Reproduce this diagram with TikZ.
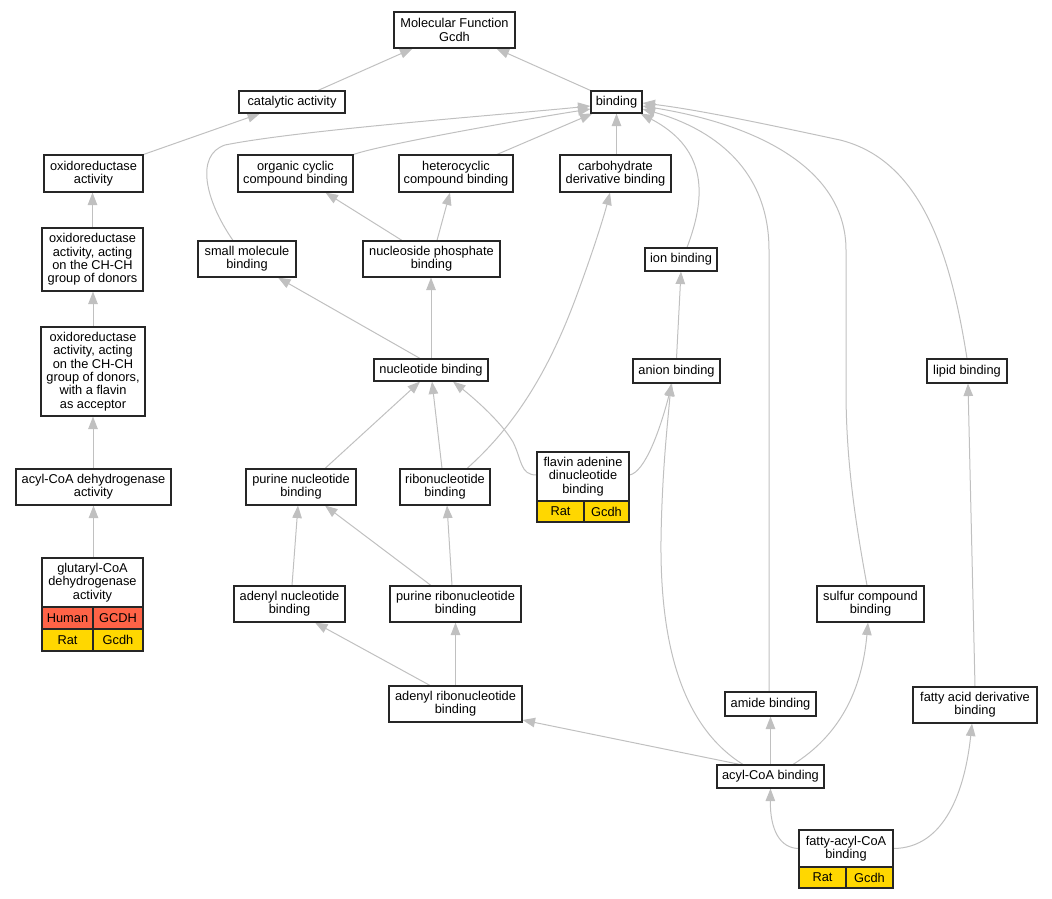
\documentclass[tikz,border=0pt]{standalone}
\usepackage{fontspec}
\setmainfont{Liberation Sans}
\usetikzlibrary{arrows.meta,calc,backgrounds}
\definecolor{edgec}{RGB}{192,192,192}
\definecolor{humanc}{RGB}{255,99,71}
\definecolor{ratc}{RGB}{255,215,0}
\newcommand{\fsz}{\fontsize{12.8pt}{13.3pt}\selectfont}
\tikzset{
  box/.style={draw=black!85, line width=1.1pt, fill=white, inner sep=0pt, align=center, font=\fsz},
  cell/.style={draw=black!85, line width=1.1pt, inner sep=0pt, align=center, font=\fsz},
  edge/.style={draw=edgec, line width=1pt, -{Triangle[length=12.5pt,width=9.5pt,fill=edgec]}},
}
\begin{document}
\begin{tikzpicture}[x=1pt,y=-1pt]
\useasboundingbox (0,0) rectangle (1052,899);
% nodes
\node[box, minimum width=121pt, minimum height=36pt] (MF) at (454.5,30) {Molecular Function\\Gcdh};
\node[box, minimum width=106pt, minimum height=22pt] (cat) at (292,102) {catalytic activity};
\node[box, minimum width=51pt, minimum height=22pt] (bind) at (616.5,102) {binding};
\node[box, minimum width=99pt, minimum height=37pt] (oxact) at (93.5,173.5) {oxidoreductase\\activity};
\node[box, minimum width=115pt, minimum height=37pt] (orgcyc) at (295.5,173.5) {organic cyclic\\compound binding};
\node[box, minimum width=114pt, minimum height=37pt] (hetcyc) at (456,173.5) {heterocyclic\\compound binding};
\node[box, minimum width=111pt, minimum height=37pt] (carb) at (615.5,173.5) {carbohydrate\\derivative binding};
\node[box, minimum width=101pt, minimum height=63pt] (oxch) at (92.5,259.5) {oxidoreductase\\activity, acting\\on the CH-CH\\group of donors};
\node[box, minimum width=98pt, minimum height=36pt] (smallmol) at (247,259) {small molecule\\binding};
\node[box, minimum width=137pt, minimum height=36pt] (nucphos) at (431.5,259) {nucleoside phosphate\\binding};
\node[box, minimum width=72pt, minimum height=23pt] (ion) at (681,259.5) {ion binding};
\node[box, minimum width=104pt, minimum height=89pt] (oxfl) at (93,371.5) {oxidoreductase\\activity, acting\\on the CH-CH\\group of donors,\\with a flavin\\as acceptor};
\node[box, minimum width=114pt, minimum height=22pt] (nucl) at (431,370) {nucleotide binding};
\node[box, minimum width=87pt, minimum height=24pt] (anion) at (676.5,371) {anion binding};
\node[box, minimum width=80pt, minimum height=24pt] (lipid) at (967,371) {lipid binding};
\node[box, minimum width=155pt, minimum height=36pt] (acyldh) at (93.5,487) {acyl-CoA dehydrogenase\\activity};
\node[box, minimum width=110pt, minimum height=36pt] (purnuc) at (301,487) {purine nucleotide\\binding};
\node[box, minimum width=90pt, minimum height=36pt] (ribo) at (445,487) {ribonucleotide\\binding};
\node[box, minimum width=92pt, minimum height=49pt] (fad) at (583,476.5) {flavin adenine\\dinucleotide\\binding};
\node[cell, fill=ratc, minimum width=47pt, minimum height=21pt] (fadA) at (560.5,511.5) {Rat};
\node[cell, fill=ratc, minimum width=45pt, minimum height=21pt] (fadB) at (606.5,511.5) {Gcdh};
\node[box, minimum width=101pt, minimum height=49pt] (glut) at (92.5,582.5) {glutaryl-CoA\\dehydrogenase\\activity};
\node[cell, fill=humanc, minimum width=51pt, minimum height=22pt] (glutA) at (67.5,618) {Human};
\node[cell, fill=humanc, minimum width=50pt, minimum height=22pt] (glutB) at (118,618) {GCDH};
\node[cell, fill=ratc, minimum width=51pt, minimum height=22pt] (glutC) at (67.5,640) {Rat};
\node[cell, fill=ratc, minimum width=50pt, minimum height=22pt] (glutD) at (118,640) {Gcdh};
\node[box, minimum width=111pt, minimum height=36pt] (adenyl) at (289.5,604) {adenyl nucleotide\\binding};
\node[box, minimum width=131pt, minimum height=36pt] (purribo) at (455.5,604) {purine ribonucleotide\\binding};
\node[box, minimum width=107pt, minimum height=36pt] (sulfur) at (870.5,604) {sulfur compound\\binding};
\node[box, minimum width=133pt, minimum height=36pt] (adribo) at (455.5,704) {adenyl ribonucleotide\\binding};
\node[box, minimum width=91pt, minimum height=24pt] (amide) at (770.5,704) {amide binding};
\node[box, minimum width=124pt, minimum height=36pt] (fattyder) at (975,705) {fatty acid derivative\\binding};
\node[box, minimum width=107pt, minimum height=23pt] (acylcoa) at (770.5,776.5) {acyl-CoA binding};
\node[box, minimum width=94pt, minimum height=37pt] (fattyacyl) at (846,848.5) {fatty-acyl-CoA\\binding};
\node[cell, fill=ratc, minimum width=47pt, minimum height=21pt] (faA) at (822.5,877.5) {Rat};
\node[cell, fill=ratc, minimum width=47pt, minimum height=21pt] (faB) at (869.5,877.5) {Gcdh};
% edges
\begin{scope}[on background layer]
\draw[edge] ([xshift=26pt]cat.north) -- ([xshift=-42pt]MF.south);
\draw[edge] (bind.north west) -- ([xshift=42pt]MF.south);
\draw[edge] (oxact.north east) -- ([xshift=-32pt]cat.south);
\draw[edge] (oxch.north) -- (oxch.north |- oxact.south);
\draw[edge] (oxfl.north) -- (oxfl.north |- oxch.south);
\draw[edge] (acyldh.north -| oxfl.south) -- (oxfl.south);
\draw[edge] (glut.north -| acyldh.south) -- (acyldh.south);
% into binding
\draw[edge] ([xshift=-14pt]smallmol.north) .. controls (205,200) and (195,155) .. (225,145) .. controls (300,130) and (500,115) .. ([yshift=-4pt]bind.west);
\draw[edge] (orgcyc.north east) .. controls (380,145) and (520,120) .. ([yshift=-7pt]bind.west);
\draw[edge] ([xshift=41pt]hetcyc.north) -- ([xshift=2pt]bind.south west);
\draw[edge] (carb.north -| bind.south) -- (bind.south);
\draw[edge] ([xshift=6pt]ion.north) .. controls (705,200) and (710,150) .. ([xshift=-2pt]bind.south east);
\draw[edge] ([xshift=-1.5pt]amide.north) -- (769,250) .. controls (769,160) and (700,125) .. ([yshift=-7pt]bind.east);
\draw[edge] ([xshift=-3.5pt]sulfur.north) .. controls (855,520) and (846,460) .. (846,390) -- (846,250) .. controls (846,170) and (760,125) .. ([yshift=-4pt]bind.east);
\draw[edge] (lipid.north) .. controls (950,250) and (920,160) .. (840,140) .. controls (770,125) and (700,110) .. ([yshift=-1pt]bind.east);
% middle
\draw[edge] ([xshift=-29.5pt]nucphos.north) -- ([xshift=30pt]orgcyc.south);
\draw[edge] ([xshift=5.5pt]nucphos.north) -- ([xshift=-6pt]hetcyc.south);
\draw[edge] ([xshift=-11pt]nucl.north) -- ([xshift=31pt]smallmol.south);
\draw[edge] (nucl.north) -- (nucl.north |- nucphos.south);
\draw[edge] (anion.north) -- (ion.south);
\draw[edge] ([xshift=24pt]purnuc.north) -- ([xshift=-11pt]nucl.south);
\draw[edge] ([xshift=-3pt]ribo.north) -- ([xshift=1pt]nucl.south);
\draw[edge] ([yshift=1.5pt]fad.west) .. controls (520,475) and (522,460) .. (513,442) .. controls (500,420) and (470,395) .. ([xshift=22pt]nucl.south);
\draw[edge] ([yshift=1.5pt]fad.east) .. controls (645,472) and (660,430) .. ([xshift=-4.5pt]anion.south);
\draw[edge] ([xshift=22pt]ribo.north) .. controls (510,430) and (545,380) .. (575,300) .. controls (590,260) and (603,220) .. ([xshift=-5.5pt]carb.south);
\draw[edge] ([xshift=2.5pt]adenyl.north) -- ([xshift=-3pt]purnuc.south);
\draw[edge] ([xshift=-24.5pt]purribo.north) -- ([xshift=24pt]purnuc.south);
\draw[edge] ([xshift=-3.5pt]purribo.north) -- ([xshift=2pt]ribo.south);
\draw[edge] ([xshift=-25.5pt]adribo.north) -- ([xshift=25.5pt]adenyl.south);
\draw[edge] (adribo.north) -- (purribo.south);
% bottom
\draw[edge] ([xshift=-30.5pt]acylcoa.north) -- ([yshift=-16pt]adribo.east);
\draw[edge] (acylcoa.north) -- (amide.south);
\draw[edge] ([xshift=22.5pt]acylcoa.north) .. controls (840,735) and (862,690) .. ([xshift=-2.5pt]sulfur.south);
\draw[edge] ([xshift=-27.5pt]acylcoa.north) .. controls (680,725) and (660,640) .. (661,540) .. controls (662,470) and (668,420) .. ([xshift=-5.5pt]anion.south);
\draw[edge] (fattyacyl.west) .. controls (780,848) and (770,830) .. (acylcoa.south);
\draw[edge] (fattyacyl.east) .. controls (945,848) and (965,790) .. ([xshift=-3pt]fattyder.south);
\draw[edge] (fattyder.north) -- ([xshift=1pt]lipid.south);
\end{scope}
\end{tikzpicture}
\end{document}
